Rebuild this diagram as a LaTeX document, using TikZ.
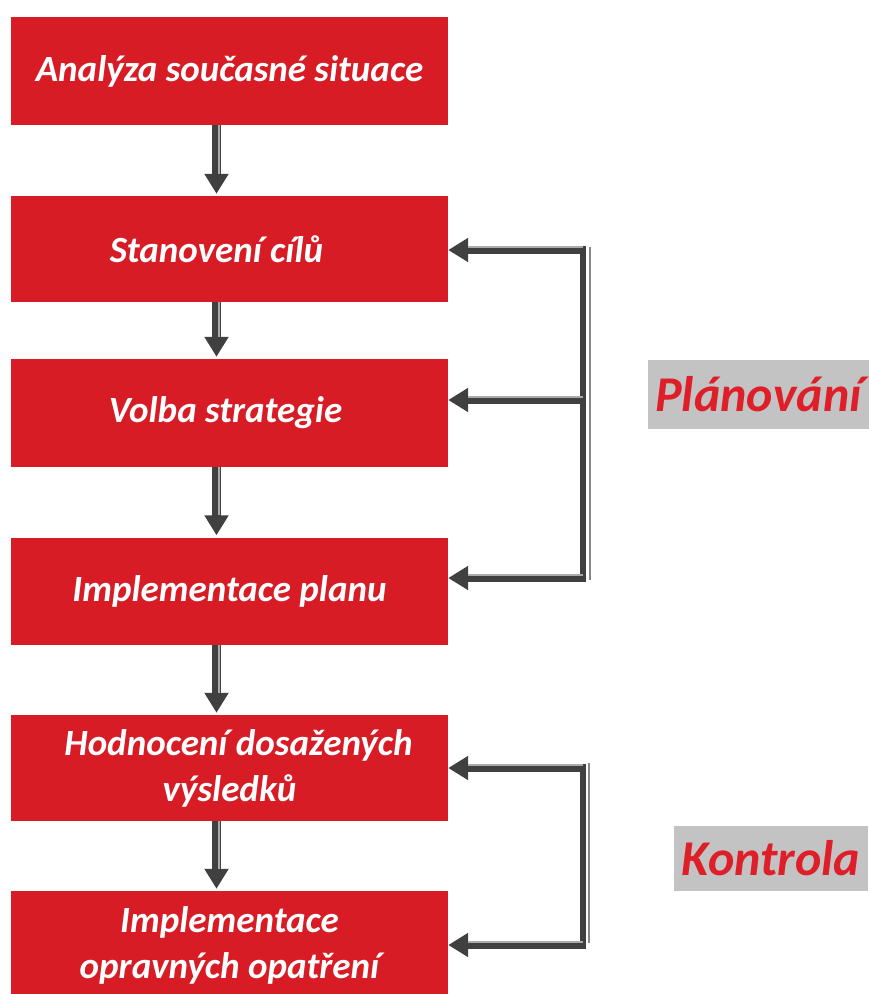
\documentclass[tikz,border=0pt]{standalone}
\usepackage{fontspec}
\setmainfont{Carlito}
\usetikzlibrary{arrows.meta,calc}
\definecolor{boxred}{RGB}{216,28,38}
\definecolor{arrdark}{RGB}{64,64,64}
\definecolor{arrlight}{RGB}{170,170,170}
\definecolor{lblgray}{RGB}{195,195,195}
\definecolor{lblred}{RGB}{222,30,40}
\begin{document}
\begin{tikzpicture}[x=1pt,y=-1pt,
  stepbox/.style={rectangle, fill=boxred, draw=none, minimum width=437pt,
    text=white, font=\fontsize{37}{46}\selectfont\bfseries\itshape,
    align=center, inner sep=0pt},
  downarrow/.style={draw=arrdark, line width=9pt,
    -{Triangle[width=23pt,length=20pt]}, shorten >=2pt},
  harrow/.style={draw=arrdark, line width=8pt,
    -{Triangle[width=23pt,length=20pt]}},
  fbline/.style={draw=arrdark, line width=6pt},
  stripe/.style={draw=arrlight, line width=2pt},
  thinline/.style={draw=arrlight!80!black, line width=2pt},
  lbl/.style={rectangle, fill=lblgray, draw=none, text=lblred,
    font=\fontsize{50}{60}\selectfont\bfseries\itshape, inner sep=0pt}
]
\useasboundingbox (0,0) rectangle (869,994);
\fill[white] (0,0) rectangle (869,994);
\clip (0,0) rectangle (869,994);

% boxes
\node[stepbox, minimum height=108pt] (b1) at (229.5,71) {Analýza současné situace};
\node[stepbox, minimum height=106pt] (b2) at (229.5,249) {Stanovení cílů\hspace{26pt}};
\node[stepbox, minimum height=108pt] (b3) at (229.5,413) {Volba strategie\hspace{8pt}};
\node[stepbox, minimum height=107pt] (b4) at (229.5,591) {Implementace planu};
\node[stepbox, minimum height=106pt] (b5) at (229.5,768) {\hspace{18pt}Hodnocení dosažených\\výsledků};
\node[stepbox, minimum height=108pt] (b6) at (229.5,945) {Implementace\\opravných opatření};

% down arrows
\foreach \a/\b in {b1/b2,b2/b3,b3/b4,b4/b5,b5/b6}{
  \draw[downarrow] ($(\a.south)+(-13,0)$) -- ($(\b.north)+(-13,0)$);
  \draw[stripe] ($(\a.south)+(-11,0)$) -- ($(\b.north)+(-11,-22)$);
}

% planning feedback
\coordinate (pc1) at (583,250);
\coordinate (pc2) at (583,400);
\coordinate (pc3) at (583,578);
\coordinate (pg1) at (590,247);
\coordinate (pg3) at (590,580);
\draw[thinline] (pg1) -- (pg3);
\draw[fbline] ($(pc1)+(0,-3)$) -- ($(pc3)+(0,3)$);
\foreach \c/\b in {pc1/b2,pc2/b3,pc3/b4}{
  \draw[harrow] ($(\c)+(3,0)$) -- (\c -| \b.east);
  \draw[stripe] ($(\c)+(0,-3)$) -- ($(\c -| \b.east)+(20,-3)$);
}

% control feedback
\coordinate (kc1) at (583,768);
\coordinate (kc2) at (583,945);
\coordinate (kg1) at (589,763);
\coordinate (kg2) at (589,943);
\draw[thinline] (kg1) -- (kg2);
\draw[fbline] ($(kc1)+(0,-3)$) -- ($(kc2)+(0,3)$);
\foreach \c/\b in {kc1/b5,kc2/b6}{
  \draw[harrow] ($(\c)+(3,0)$) -- (\c -| \b.east);
  \draw[stripe] ($(\c)+(0,-3)$) -- ($(\c -| \b.east)+(20,-3)$);
}

% labels
\node[lbl, minimum width=221pt, minimum height=69pt] (plan) at (758.5,394.5) {Plánování};
\node[lbl, minimum width=194pt, minimum height=65pt] (kontr) at (771,858.5) {Kontrola};
\end{tikzpicture}
\end{document}
